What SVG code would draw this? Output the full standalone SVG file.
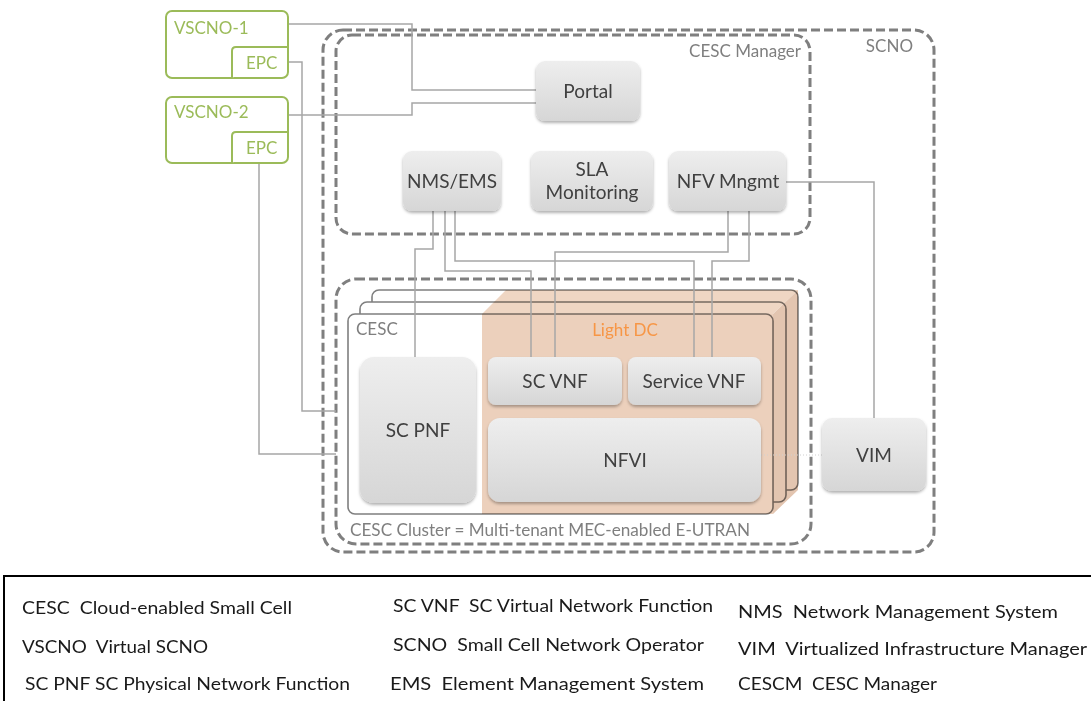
<svg xmlns="http://www.w3.org/2000/svg" width="1091" height="701" viewBox="0 0 1091 701">
<defs>
<linearGradient id="ng" x1="0" y1="0" x2="0" y2="1">
<stop offset="0" stop-color="#eeeeee"/>
<stop offset="1" stop-color="#d6d6d6"/>
</linearGradient>
<filter id="sh" x="-10%" y="-10%" width="120%" height="130%">
<feDropShadow dx="0" dy="2" stdDeviation="1.4" flood-color="#000" flood-opacity="0.3"/>
</filter>
<style>
text{font-family:Lato,"Open Sans","Liberation Sans",sans-serif}
.dash{fill:none;stroke:#7f7f7f;stroke-width:3;stroke-dasharray:9 4}
.node{fill:url(#ng);filter:url(#sh)}
.nt{font-size:19px;fill:#404040;text-anchor:middle}
.lbl{font-size:17px;fill:#7f7f7f}
.grn{fill:#fff;stroke:#9bbb59;stroke-width:2}
.gt{font-size:17px;fill:#9bbb59}
.cn{fill:none;stroke:#a6a6a6;stroke-width:1.5}
.box{fill:#fff;stroke:#7f7f7f;stroke-width:1.6}
.leg{font-size:17px;fill:#1a1a1a;white-space:pre}
</style>
</defs>
<rect width="1091" height="701" fill="#fff"/>

<g id="scno">
<rect class="dash" x="323" y="30" width="611" height="522" rx="20"/>
<text class="lbl" x="913" y="52" text-anchor="end">SCNO</text>
</g>
<g id="cesc-manager">
<rect class="dash" x="336" y="35" width="474" height="199" rx="16"/>
<text class="lbl" x="801" y="57" text-anchor="end">CESC Manager</text>
</g>
<g id="cesc-cluster">
<rect class="dash" x="336" y="279" width="475" height="265" rx="20"/>
<text class="lbl" x="350" y="536" textLength="400" lengthAdjust="spacingAndGlyphs">CESC Cluster = Multi-tenant MEC-enabled E-UTRAN</text>
</g>

<g id="cesc">
<rect class="box" x="372" y="290" width="426" height="200" rx="7"/>
<rect class="box" x="360" y="302" width="426" height="200" rx="7"/>
<rect class="box" x="348" y="314" width="425" height="200" rx="7"/>
<text class="lbl" x="356" y="335">CESC</text>
</g>
<g id="light-dc" style="mix-blend-mode:multiply">
<polygon points="482,314 506,290 798,290 773,314" fill="#efd6c3"/>
<polygon points="773,314 798,290 798,490 773,514" fill="#e3c5b0"/>
<rect x="482" y="314" width="291" height="200" fill="#ecd0bc"/>
</g>
<text x="625" y="336" font-size="17" fill="#f79646" text-anchor="middle">Light DC</text>

<g id="connectors">
<polyline class="cn" points="288,24 412,24 412,90 536,90"/>
<polyline class="cn" points="288,115 412,115 412,103 536,103"/>
<polyline class="cn" points="288,62 302,62 302,411 336,411"/>
<polyline class="cn" points="259,163 259,454 336,454"/>
<polyline class="cn" points="786,182 874,182 874,418"/>
<polyline class="cn" points="433,211 433,249 415,249 415,357"/>
<polyline class="cn" points="445,211 445,271 531,271 531,357"/>
<polyline class="cn" points="455,211 455,261 694,261 694,357"/>
<polyline class="cn" points="728,211 728,252 555,252 555,357"/>
<polyline class="cn" points="749,211 749,261 712,261 712,357"/>
<line x1="761" y1="455" x2="822" y2="455" stroke="#d0d0d0" stroke-width="1" stroke-dasharray="1 2"/>
</g>

<g id="vscno-1">
<rect class="grn" x="166" y="11" width="122" height="67" rx="6"/>
<path class="grn" d="M288,47 H236 Q232,47 232,51 V78" fill="none"/>
<text class="gt" x="174" y="34">VSCNO-1</text>
<text class="gt" x="246" y="69">EPC</text>
</g>
<g id="vscno-2">
<rect class="grn" x="166" y="97" width="122" height="66" rx="6"/>
<path class="grn" d="M288,132 H236 Q232,132 232,136 V163" fill="none"/>
<text class="gt" x="174" y="118">VSCNO-2</text>
<text class="gt" x="246" y="154">EPC</text>
</g>

<g id="portal">
<rect class="node" x="536" y="61" width="104" height="60" rx="9"/>
<text class="nt" x="588" y="98">Portal</text>
</g>
<g id="nms-ems">
<rect class="node" x="403" y="151" width="98" height="60" rx="9"/>
<text class="nt" x="452" y="188">NMS/EMS</text>
</g>
<g id="sla-monitoring">
<rect class="node" x="531" y="151" width="122" height="60" rx="9"/>
<text class="nt" x="592" y="176">SLA</text>
<text class="nt" x="592" y="199">Monitoring</text>
</g>
<g id="nfv-mngmt">
<rect class="node" x="669" y="151" width="117" height="60" rx="9"/>
<text class="nt" x="728" y="188">NFV Mngmt</text>
</g>
<g id="sc-pnf">
<rect class="node" x="360" y="357" width="116" height="146" rx="14"/>
<text class="nt" x="418" y="437">SC PNF</text>
</g>
<g id="sc-vnf">
<rect class="node" x="488" y="357" width="134" height="48" rx="8"/>
<text class="nt" x="555" y="388">SC VNF</text>
</g>
<g id="service-vnf">
<rect class="node" x="628" y="357" width="133" height="48" rx="8"/>
<text class="nt" x="694" y="388">Service VNF</text>
</g>
<g id="nfvi">
<rect class="node" x="488" y="418" width="273" height="84" rx="12"/>
<text class="nt" x="625" y="467">NFVI</text>
</g>
<g id="vim">
<rect class="node" x="822" y="418" width="104" height="73" rx="10"/>
<text class="nt" x="874" y="462">VIM</text>
</g>

<g id="legend">
<rect x="4" y="576" width="1100" height="140" fill="#fff" stroke="#000" stroke-width="2"/>
<text class="leg" x="22" y="614" textLength="270" lengthAdjust="spacingAndGlyphs">CESC  Cloud-enabled Small Cell</text>
<text class="leg" x="22" y="653" textLength="186" lengthAdjust="spacingAndGlyphs">VSCNO  Virtual SCNO</text>
<text class="leg" x="25" y="690" textLength="325" lengthAdjust="spacingAndGlyphs">SC PNF SC Physical Network Function</text>
<text class="leg" x="393" y="612" textLength="320" lengthAdjust="spacingAndGlyphs">SC VNF  SC Virtual Network Function</text>
<text class="leg" x="393" y="651" textLength="311" lengthAdjust="spacingAndGlyphs">SCNO  Small Cell Network Operator</text>
<text class="leg" x="390" y="690" textLength="314" lengthAdjust="spacingAndGlyphs">EMS  Element Management System</text>
<text class="leg" x="738" y="618" textLength="320" lengthAdjust="spacingAndGlyphs">NMS  Network Management System</text>
<text class="leg" x="738" y="655" textLength="349" lengthAdjust="spacingAndGlyphs">VIM  Virtualized Infrastructure Manager</text>
<text class="leg" x="738" y="690" textLength="199" lengthAdjust="spacingAndGlyphs">CESCM  CESC Manager</text>
</g>
</svg>
